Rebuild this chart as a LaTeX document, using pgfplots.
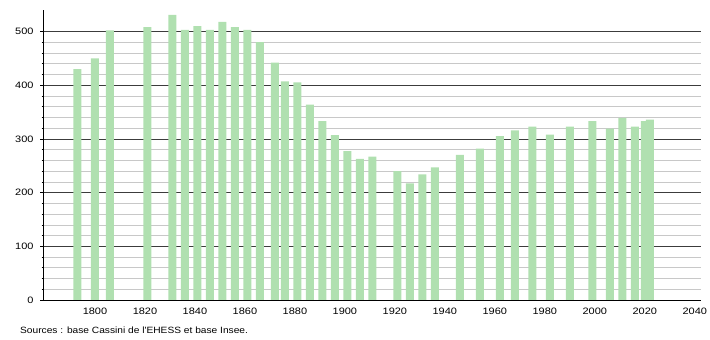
\documentclass[border=0pt]{standalone}
\usepackage{pgfplots}
\pgfplotsset{compat=1.18}
\usepackage{fontspec}
\setmainfont{Liberation Sans}
\newfontfamily\tickfont[FakeStretch=1.18]{Liberation Sans}
\newfontfamily\srcfont[FakeStretch=1.12]{Liberation Sans}
\definecolor{bargreen}{RGB}{176,224,176}
\definecolor{majgrid}{RGB}{60,60,60}
\definecolor{mingrid}{RGB}{200,200,200}
\begin{document}
\begin{tikzpicture}[x=1pt,y=1pt]
\useasboundingbox (0,0) rectangle (710,340);
\begin{axis}[
  at={(43.5pt,40pt)}, anchor=south west,
  scale only axis, width=657pt, height=290pt,
  xmin=1779.4, xmax=2042.3, ymin=0, ymax=540,
  axis lines*=left,
  axis line style={black, line width=0.8pt},
  xtick={1800,1820,...,2040},
  x tick label style={/pgf/number format/1000 sep={}, font=\tickfont\fontsize{9.3}{10}\selectfont, yshift=-0.5pt},
  ytick={0,100,...,500},
  minor y tick num=4,
  y tick label style={font=\tickfont\fontsize{9.3}{10}\selectfont, xshift=-3pt},
  /pgf/number format/assume math mode=true,
  xtick style={draw=none},
  ytick style={black, line width=0.6pt},
  tick align=outside,
  major tick length=3.5pt,
  minor tick length=2pt,
  ymajorgrids, yminorgrids,
  major grid style={majgrid, line width=0.6pt},
  minor grid style={mingrid, line width=0.6pt},
  clip=false,
]
\addplot[ybar, bar width=8pt, fill=bargreen, draw=none] coordinates {
(1793,430) (1800,450) (1806,502) (1821,508) (1831,531) (1836,503)
(1841,510) (1846,503) (1851,518) (1856,508) (1861,503) (1866,480)
(1872,442) (1876,407) (1881,405) (1886,364) (1891,333) (1896,307)
(1901,277) (1906,263) (1911,267) (1921,240) (1926,217) (1931,234)
(1936,247) (1946,270) (1954,282) (1962,305) (1968,316) (1975,323)
(1982,308) (1990,323) (1999,333) (2006,319) (2011,339) (2016,323)
(2020,333) (2022,336)
};
\end{axis}
\node[anchor=base west, inner sep=0pt, font=\srcfont\fontsize{9.1}{10}\selectfont] at (20pt,6pt) {Sources : base Cassini de l'EHESS et base Insee.};
\end{tikzpicture}
\end{document}
